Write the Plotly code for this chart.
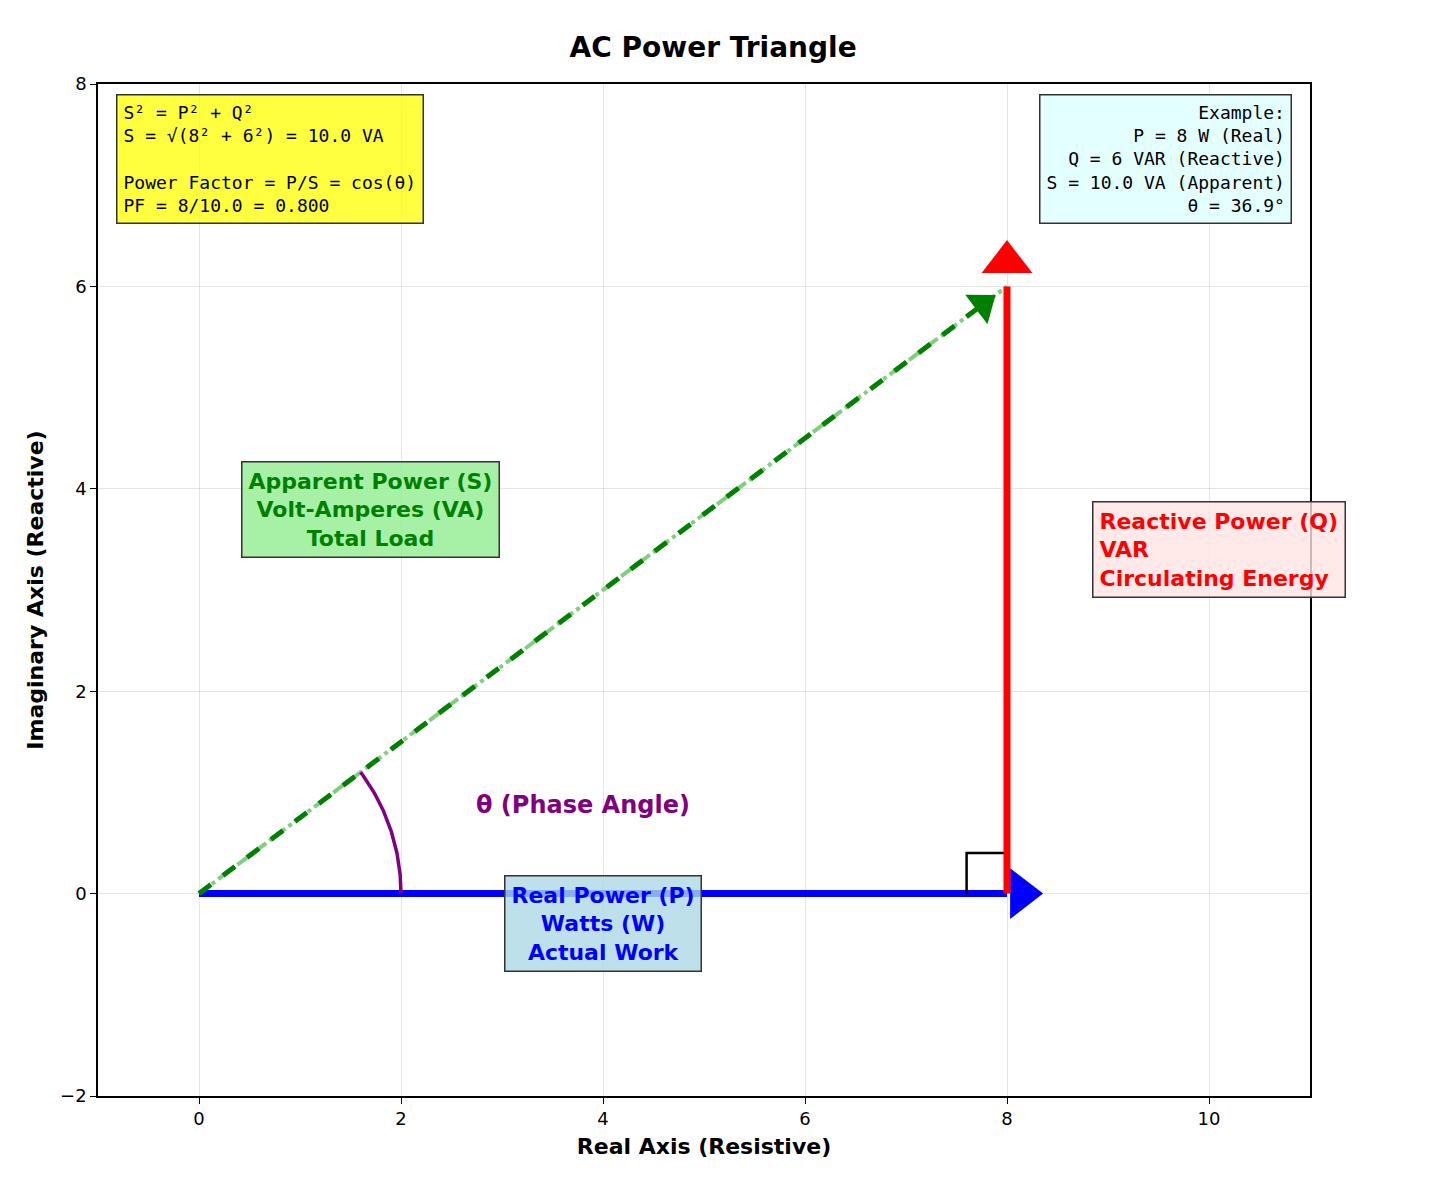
import numpy as np
import plotly.graph_objects as go

# Power values
P = 8
Q = 6
S = float(np.hypot(P, Q))
theta = float(np.degrees(np.arctan2(Q, P)))
arc_radius = 2
sq = 0.4

x_ticks = [0, 2, 4, 6, 8, 10]
y_ticks = [-2, 0, 2, 4, 6, 8]
y_ticktext = ["−2", "0", "2", "4", "6", "8"]

fig = go.Figure()

# Real power (blue)
fig.add_trace(go.Scatter(x=[0, P], y=[0, 0], mode="lines",
                         line=dict(color="blue", width=7), hoverinfo="skip"))
fig.add_trace(go.Scatter(x=[P + 0.14], y=[0], mode="markers",
                         marker=dict(symbol="triangle-right", size=44, color="blue"), hoverinfo="skip"))

# Apparent power (green)
fig.add_trace(go.Scatter(x=[0, P], y=[0, Q], mode="lines",
                         line=dict(color="#7fcf7f", width=4, dash="dashdot"), hoverinfo="skip"))
fig.add_trace(go.Scatter(x=[0, P * 0.97], y=[0, Q * 0.97], mode="lines",
                         line=dict(color="green", width=5, dash="dash"), hoverinfo="skip"))
fig.add_trace(go.Scatter(x=[P * 0.97], y=[Q * 0.97], mode="markers",
                         marker=dict(symbol="triangle-up", size=32, color="green", angle=90 - theta),
                         hoverinfo="skip"))

# Right angle marker
fig.add_trace(go.Scatter(x=[P - sq, P - sq, P], y=[0, sq, sq], mode="lines",
                         line=dict(color="black", width=2.5), hoverinfo="skip"))

# Reactive power (red)
fig.add_trace(go.Scatter(x=[P, P], y=[0, Q], mode="lines",
                         line=dict(color="red", width=7), hoverinfo="skip"))
fig.add_trace(go.Scatter(x=[P], y=[Q + 0.24], mode="markers",
                         marker=dict(symbol="triangle-up", size=44, color="red"), hoverinfo="skip"))

# Angle arc
t = np.radians(np.linspace(0, theta, 60))
fig.add_trace(go.Scatter(x=arc_radius * np.cos(t), y=arc_radius * np.sin(t), mode="lines",
                         line=dict(color="purple", width=3.5), hoverinfo="skip"))

bold = dict(family="DejaVu Sans", size=22)
mono = dict(family="DejaVu Sans Mono", size=18, color="black")

fig.add_annotation(x=4, y=-0.3, text="<b>Real Power (P)<br>Watts (W)<br>Actual Work</b>",
                   showarrow=False, font=dict(bold, color="blue"), bgcolor="rgba(173,216,230,0.8)",
                   bordercolor="#333", borderwidth=1.5, borderpad=6)
fig.add_annotation(x=10.1, y=3.4, text="<b>Reactive Power (Q)<br>VAR<br>Circulating Energy</b>",
                   showarrow=False, align="left", font=dict(bold, color="red"),
                   bgcolor="rgba(255,228,228,0.8)", bordercolor="#333", borderwidth=1.5, borderpad=6)
fig.add_annotation(x=1.7, y=3.8, text="<b>Apparent Power (S)<br>Volt-Amperes (VA)<br>Total Load</b>",
                   showarrow=False, font=dict(bold, color="green"), bgcolor="rgba(144,238,144,0.8)",
                   bordercolor="#333", borderwidth=1.5, borderpad=6)
fig.add_annotation(x=3.8, y=0.88, text="<b>θ (Phase Angle)</b>", showarrow=False,
                   font=dict(bold, color="purple", size=24))

fig.add_annotation(x=-0.82, y=7.9, xanchor="left", yanchor="top", align="left",
                   text=(f"S² = P² + Q²<br>S = √({P}² + {Q}²) = {S:.1f} VA<br><br>"
                         f"Power Factor = P/S = cos(θ)<br>PF = {P}/{S:.1f} = {P / S:.3f}"),
                   showarrow=False, font=mono, bgcolor="rgba(255,255,0,0.75)",
                   bordercolor="#333", borderwidth=1.5, borderpad=6)
fig.add_annotation(x=10.82, y=7.9, xanchor="right", yanchor="top", align="right",
                   text=(f"Example:<br>P = {P} W (Real)<br>Q = {Q} VAR (Reactive)<br>"
                         f"S = {S:.1f} VA (Apparent)<br>θ = {theta:.1f}°"),
                   showarrow=False, font=mono, bgcolor="rgba(224,255,255,0.9)",
                   bordercolor="#333", borderwidth=1.5, borderpad=6)

axis_common = dict(showgrid=True, gridcolor="rgba(0,0,0,0.1)", zeroline=False,
                   showline=True, linecolor="black", linewidth=1.5, mirror=True,
                   ticks="outside", ticklen=6, tickcolor="black",
                   tickfont=dict(family="DejaVu Sans", size=18, color="black"))
title_font = dict(family="DejaVu Sans", size=22, color="black")

fig.update_layout(
    width=1439, height=1182,
    margin=dict(l=90, r=137, t=76, b=94),
    title=dict(text="<b>AC Power Triangle</b>", x=0.49, xanchor="center", y=0.975,
               font=dict(family="DejaVu Sans", size=28, color="black")),
    plot_bgcolor="white", paper_bgcolor="white", showlegend=False,
    xaxis=dict(axis_common, range=[-1, 11], tickvals=x_ticks,
               title=dict(text="<b>Real Axis (Resistive)</b>", font=title_font, standoff=10)),
    yaxis=dict(axis_common, range=[-2, 8], tickmode="array", tickvals=y_ticks, ticktext=y_ticktext,
               title=dict(text="<b>Imaginary Axis (Reactive)</b>", font=title_font, standoff=10)),
)

fig.write_html("out.html")
